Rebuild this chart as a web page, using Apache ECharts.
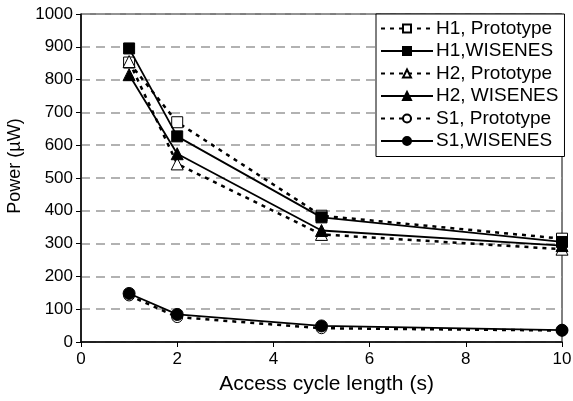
<!DOCTYPE html>
<html><head><meta charset="utf-8">
<script src="https://cdn.jsdelivr.net/npm/echarts@6/dist/echarts.min.js"></script>
<style>html,body{margin:0;padding:0;background:#fff}#c{width:573px;height:401px}</style>
</head><body><div id="c"></div>
<script>
const xValues = [1, 2, 5, 10];
const h1Prototype = [852, 670, 385, 315];
const h1Wisenes = [895, 627, 380, 305];
const h2Prototype = [855, 543, 328, 283];
const h2Wisenes = [815, 574, 340, 294];
const s1Prototype = [142, 76, 42, 35];
const s1Wisenes = [148, 84, 49, 36];
const seriesNames = ['H1, Prototype', 'H1,WISENES', 'H2, Prototype', 'H2, WISENES', 'S1, Prototype', 'S1,WISENES'];
const yTicks = [0,100,200,300,400,500,600,700,800,900,1000];
const xTicks = [0,2,4,6,8,10];

const font = 'Liberation Sans, Arial, sans-serif';
function pts(arr){ return xValues.map((x,i)=>[x, arr[i]]); }
function mk(name, arr, symbol, filled, dotted, size){
  return {
    name, type:'line', data: pts(arr), symbol, symbolSize: size,
    itemStyle:{color: filled ? '#000' : '#fff', borderColor:'#000', borderWidth:1},
    lineStyle:{color:'#000', width: dotted ? 2.5 : 1.8, type: dotted ? [4,5] : 'solid'},
    emphasis:{disabled:true}, animation:false, z: dotted ? 2 : 3
  };
}
const chart = echarts.init(document.getElementById('c'));
chart.setOption({
  animation:false,
  textStyle:{fontFamily:font},
  grid:{left:81, right:11, top:14, bottom:59, show:true, borderColor:'#000', borderWidth:1, backgroundColor:'transparent', outerBoundsMode:'none', containLabel:false},
  xAxis:{type:'value', min:0, max:10, interval:2,
    name:'Access cycle length (s)', nameLocation:'middle', nameGap:32,
    nameTextStyle:{fontSize:21, color:'#000', fontFamily:font, padding:[0,0,0,10]},
    axisLine:{lineStyle:{color:'#000', width:1.5}},
    axisTick:{show:true, length:5, lineStyle:{color:'#000'}},
    axisLabel:{fontSize:17, color:'#000', margin:9, fontFamily:font, formatter:v=>xTicks.includes(v)?String(v):''},
    splitLine:{show:false}},
  yAxis:{type:'value', min:0, max:1000, interval:100,
    name:'Power (\u00b5W)', nameLocation:'middle', nameGap:46,
    nameTextStyle:{fontSize:18, color:'#000', fontFamily:font, padding:[0,0,0,24]},
    axisLine:{show:true, lineStyle:{color:'#000', width:1.5}},
    axisTick:{show:true, length:5, lineStyle:{color:'#000'}},
    axisLabel:{fontSize:17, color:'#000', margin:8, fontFamily:font, formatter:v=>yTicks.includes(v)?String(v):''},
    splitLine:{show:true, lineStyle:{color:'#999', width:1.5, type:[9,6]}}},
  legend:{
    orient:'vertical', left:376, top:14, width:187,
    padding:[5,6,6,4], itemGap:3.5, itemWidth:52, itemHeight:10,
    backgroundColor:'#fff', borderColor:'#000', borderWidth:1,
    textStyle:{fontSize:19, color:'#000', fontFamily:font, padding:[0,0,0,-2]},
    data: seriesNames
  },
  series:[
    mk(seriesNames[0], h1Prototype, 'rect', false, true, 11),
    mk(seriesNames[1], h1Wisenes, 'rect', true, false, 11),
    mk(seriesNames[2], h2Prototype, 'triangle', false, true, 12),
    mk(seriesNames[3], h2Wisenes, 'triangle', true, false, 12),
    mk(seriesNames[4], s1Prototype, 'circle', false, true, 11),
    mk(seriesNames[5], s1Wisenes, 'circle', true, false, 12)
  ]
});
</script></body></html>
